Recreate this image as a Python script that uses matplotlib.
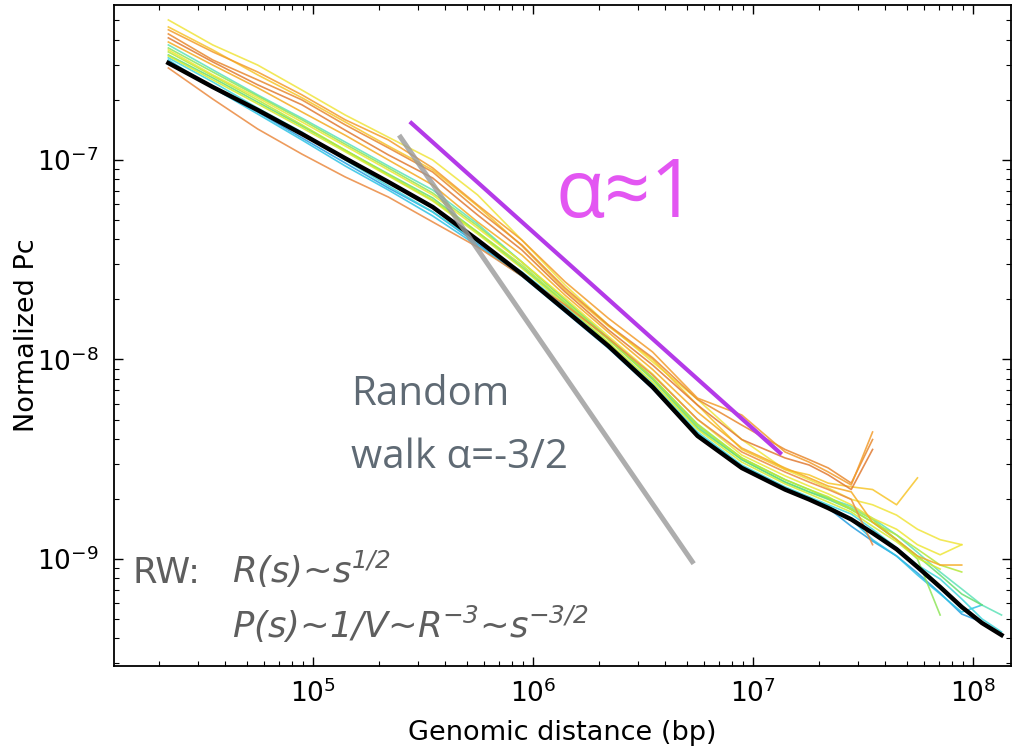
import matplotlib
matplotlib.use('Agg')
import matplotlib.pyplot as plt
from matplotlib.ticker import NullFormatter, FixedLocator
import numpy as np

plt.rcParams['axes.unicode_minus'] = False

# genomic separation (bp) at which contact probability was binned
dist = [2.2e4, 3.5e4, 5.6e4, 8.9e4, 1.4e5, 2.2e5, 3.5e5, 5.6e5, 8.9e5, 1.4e6,
        2.2e6, 3.5e6, 5.6e6, 8.9e6, 1.4e7, 1.8e7, 2.2e7, 2.8e7, 3.5e7, 4.5e7,
        5.6e7, 7.1e7, 8.9e7, 1.1e8, 1.35e8]

# normalized contact probability, in units of 1e-9
pc_mean = [306, 232, 178, 135, 102, 77.6, 58.1, 39.7, 26.8, 17.7, 11.7, 7.28,
           4.14, 2.86, 2.23, 1.99, 1.80, 1.58, 1.35, 1.12, 0.912, 0.724, 0.575,
           0.478, 0.416]

pc_yellow_top = [503, 377, 299, 224, 168, 130, 100, 66.8, 39.7, 23.6, 14.9, 9.72,
                 6.31, 3.97, 2.81, 2.50, 2.27, 1.99, 1.87, 1.66, 1.41, 1.25, 1.18]
pc_orange_a = [449, 348, 276, 212, 159, 126, 91.2, 59.5, 39.7, 24.5, 16.1, 10.9,
               6.4, 5.27, 3.44, 3.06, 2.73, 2.35, 4.33]
pc_orange_b = [428, 317, 252, 200, 150, 115, 87.0, 56.2, 37.5, 22.8, 14.9, 10.2,
               6.31, 4.69, 3.54, 3.15, 2.86, 2.40, 3.97]
pc_orange_c = [409, 310, 238, 189, 141, 106, 81.2, 53.0, 35.4, 21.8, 14.1, 9.38,
               5.91, 3.97, 3.21, 2.96, 2.64, 2.23, 3.54]
pc_orange_d = [390, 299, 230, 174, 133, 100, 74.9, 48.9, 33.4, 21.0, 13.7, 8.91,
               5.45, 3.60, 2.86, 2.55, 2.32, 2.17, 1.53, 1.25, 1.035, 0.933, 0.933]
pc_orange_low = [289, 202, 143, 107, 82.2, 65.2, 48.9, 36.6, 26.2, 18.8, 12.8,
                 8.36, 5.01, 3.44, 2.73, 2.43, 2.23, 1.99, 1.18]
pc_amber = [464, 356, 267, 205, 155, 117.5, 89.1, 58.8, 37.1, 22.3, 14.7, 10.0,
            5.91, 3.54, 2.81, 2.64, 2.40, 2.30, 2.23, 1.87, 2.55]
pc_yellow = [356, 267, 205, 155, 117.5, 89.1, 66.8, 45.6, 30.8, 20.3, 13.1, 8.46,
             5.01, 3.32, 2.61, 2.32, 2.12, 1.87, 1.60, 1.41, 1.18, 1.05, 1.18]
pc_lime = [332, 252, 191, 145, 110, 83.2, 62.3, 42.6, 28.7, 18.8, 12.2, 7.71,
           4.46, 3.06, 2.38, 2.12, 1.93, 1.72, 1.46, 1.22, 1.01, 0.89]
pc_yellowgreen = [348, 264, 200, 150, 112, 84.1, 63.0, 43.5, 29.8, 19.4, 12.6,
                  8.08, 4.69, 3.21, 2.50, 2.23, 2.05, 1.77, 1.53, 1.32, 1.12,
                  0.933, 0.861]
pc_lightgreen = [364, 276, 209, 159, 120, 91.2, 68.3, 46.7, 30.8, 19.9, 12.8,
                 8.08, 4.75, 3.21, 2.50, 2.23, 2.02, 1.80, 1.58, 1.25, 1.00, 0.524]
pc_green = [336, 258, 195, 148, 112, 85.1, 64.5, 43.5, 29.1, 19.2, 12.6, 7.94,
            4.54, 3.15, 2.43, 2.17, 1.99, 1.77, 1.53, 1.25, 1.035, 0.831, 0.668,
            0.588]
pc_aqua = [377, 283, 212, 162, 123, 93.3, 70.7, 47.8, 30.8, 19.9, 12.8, 8.08,
           4.64, 3.15, 2.43, 2.17, 2.02, 1.84, 1.60, 1.32, 1.08, 0.861, 0.708,
           0.588, 0.524]
pc_cyan = [325, 246, 182, 138, 100, 74.1, 54.9, 38.8, 27.5, 18.5, 12.1, 7.54,
           4.33, 2.96, 2.30, 2.05, 1.87, 1.68, 1.41, 1.14, 0.933, 0.794, 0.631,
           0.501, 0.431]
pc_cyan_low = [317, 230, 170, 126, 93.3, 70.7, 52.4, 37.1, 26.2, 17.7, 11.7, 7.37,
               4.23, 2.92, 2.27, 2.02, 1.84, 1.58, 1.25, 1.035, 0.831, 0.668,
               0.542, 0.588]
pc_blue = [310, 230, 174, 129, 96.6, 72.4, 54.9, 37.9, 26.2, 17.3, 11.4, 7.12,
           4.09, 2.86, 2.23, 1.99, 1.80, 1.46, 1.23, 1.035, 0.851, 0.675, 0.530,
           0.483]

# guide lines: random walk slope -3/2 and fitted slope -1
rw_x = [2.5e5, 5.3e6]
rw_y = [1.3e-7, 9.7e-10]
fit_x = [2.8e5, 1.33e7]
fit_y = [1.53e-7, 3.4e-9]

x_major = [1e5, 1e6, 1e7, 1e8]
y_major = [1e-9, 1e-8, 1e-7]

curves = [
    (pc_blue, '#259ee0'), (pc_cyan_low, '#2ec3e6'), (pc_cyan, '#3fd5dc'),
    (pc_aqua, '#5ee2b8'), (pc_green, '#66dd72'), (pc_lightgreen, '#8ee65a'),
    (pc_yellowgreen, '#b5e83a'), (pc_lime, '#d5ec2e'), (pc_yellow, '#eee637'),
    (pc_yellow_top, '#f0e43c'), (pc_amber, '#f7c52a'), (pc_orange_d, '#f5ab22'),
    (pc_orange_low, '#ea8a40'), (pc_orange_c, '#e07a32'),
    (pc_orange_b, '#e8892f'), (pc_orange_a, '#f39c2c'),
]

fig = plt.figure(figsize=(10.15, 7.51), dpi=100)
ax = fig.add_axes([0.1123, 0.1132, 0.8837, 0.8802])

for vals, col in curves:
    ax.loglog(dist[:len(vals)], np.array(vals) * 1e-9, color=col, lw=1.2,
              alpha=0.85)
ax.loglog(dist, np.array(pc_mean) * 1e-9, color='black', lw=3.2)

ax.plot(rw_x, rw_y, color='#999999', lw=3.6, alpha=0.8)
ax.plot(fit_x, fit_y, color='#b43ae8', lw=3)

ax.set_xlim(1.245e4, 1.49e8)
ax.set_ylim(2.91e-10, 5.98e-7)
ax.xaxis.set_major_locator(FixedLocator(x_major))
ax.yaxis.set_major_locator(FixedLocator(y_major))
ax.xaxis.set_minor_formatter(NullFormatter())
ax.yaxis.set_minor_formatter(NullFormatter())

ax.tick_params(which='both', direction='in', top=True, right=True)
ax.tick_params(which='major', length=6.5, width=1, labelsize=19)
ax.tick_params(axis='x', which='major', pad=10)
ax.tick_params(axis='y', which='major', pad=11)
ax.tick_params(which='minor', length=3.5, width=0.8)
for sp in ax.spines.values():
    sp.set_linewidth(1.3)

ax.set_xlabel('Genomic distance (bp)', fontsize=19.5, va='center')
ax.set_ylabel('Normalized Pc', fontsize=19.5, va='center')
ax.xaxis.set_label_coords(0.5, -0.102)
ax.yaxis.set_label_coords(-0.097, 0.5)

W, H = 1015, 751
slide = ['Open Sans', 'DejaVu Sans']
fig.text(351 / W, 1 - 405 / H, 'Random', fontsize=29, family=slide,
         color='#5f6a74', va='baseline')
fig.text(351 / W, 1 - 468 / H, 'walk α=-3/2', fontsize=29, family=slide,
         color='#5f6a74', va='baseline')
fig.text(555 / W, 1 - 217 / H, 'α≈1', fontsize=58, family=slide,
         color='#e356f2', va='baseline')

rw = dict(fontsize=25.5, family='DejaVu Sans', color='#5e5e5e', va='baseline')
fig.text(132 / W, 1 - 583 / H, 'RW:', **rw)
fig.text(232 / W, 1 - 583 / H, r'R(s)~s$^{\mathdefault{1/2}}$', style='italic', **rw)
fig.text(232 / W, 1 - 638 / H,
         r'P(s)~1/V~R$^{\mathdefault{-3}}$~s$^{\mathdefault{-3/2}}$',
         style='italic', **rw)

fig.savefig('out.png', dpi=100)
